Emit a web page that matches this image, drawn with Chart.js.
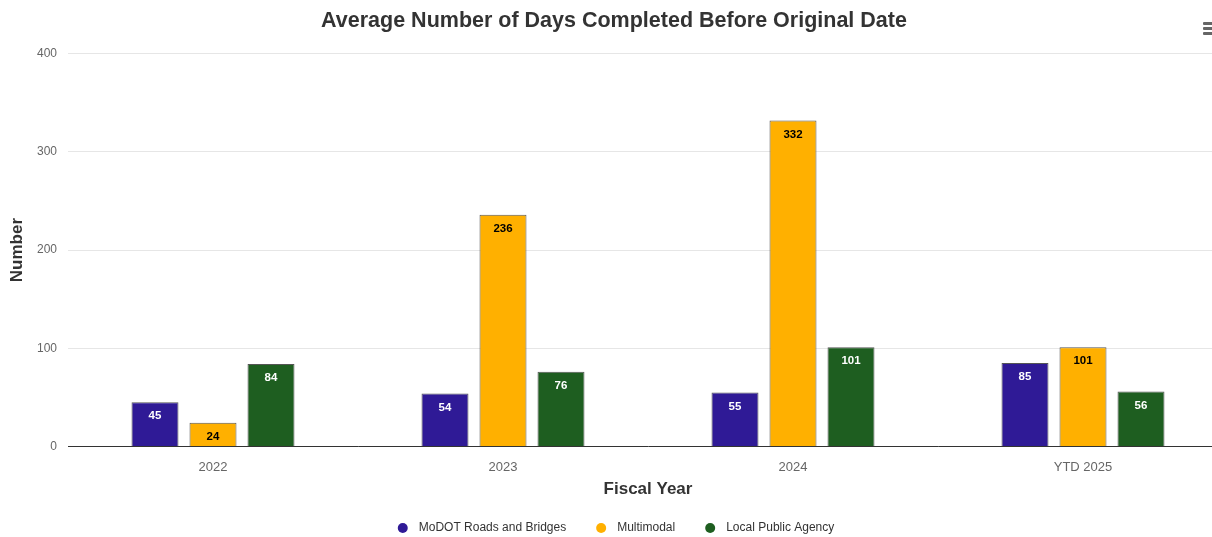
<!DOCTYPE html>
<html>
<head>
<meta charset="utf-8">
<script src="https://cdn.jsdelivr.net/npm/chart.js@4/dist/chart.umd.min.js"></script>
<style>
html,body{margin:0;padding:0;background:#fff;overflow:hidden;width:1212px;height:537px;}
#wrap{position:relative;width:1232px;height:537px;}
#menu{position:absolute;left:1203px;top:22px;width:10px;}
#menu div{height:3px;background:#666;margin-bottom:2px;border-radius:1px;}
</style>
</head>
<body>
<div id="wrap"><canvas id="c" width="1232" height="537"></canvas>
<div id="menu"><div></div><div></div><div></div></div></div>
<script>
const categories = ["2022", "2023", "2024", "YTD 2025"];
const modot = [45, 54, 55, 85];
const multimodal = [24, 236, 332, 101];
const lpa = [84, 76, 101, 56];
const seriesNames = ["MoDOT Roads and Bridges", "Multimodal", "Local Public Agency"];
const yTicks = [0, 100, 200, 300, 400];
const xTitle = "Fiscal Year";
const yTitle = "Number";

const colors = ["#2f1a96", "#ffb000", "#1e5e20"];
const labelColors = ["#ffffff", "#000000", "#ffffff"];
const FONT = "'Liberation Sans', Arial, sans-serif";

const extras = {
  id: 'extras',
  afterDatasetsDraw(chart) {
    const ctx = chart.ctx;
    const area = chart.chartArea;
    ctx.save();
    // value labels
    ctx.font = "bold 11.5px " + FONT;
    ctx.textAlign = 'center';
    ctx.textBaseline = 'middle';
    chart.data.datasets.forEach((ds, i) => {
      const meta = chart.getDatasetMeta(i);
      meta.data.forEach((bar, j) => {
        ctx.fillStyle = labelColors[i];
        ctx.fillText(String(ds.data[j]), bar.x, bar.y + 14);
      });
    });
    // axis titles
    ctx.fillStyle = "#333333";
    ctx.font = "bold 17px " + FONT;
    ctx.fillText(xTitle, (area.left + area.right) / 2, area.bottom + 43);
    ctx.save();
    ctx.translate(17, (area.top + area.bottom) / 2);
    ctx.rotate(-Math.PI / 2);
    ctx.fillText(yTitle, 0, 0);
    ctx.restore();
    // legend
    ctx.font = "12px " + FONT;
    const r = 5, textOff = 16, gap = 35;
    const tw = seriesNames.map(n => ctx.measureText(n).width);
    let total = r;
    tw.forEach((w, i) => { total += textOff + w + (i < tw.length - 1 ? gap : 0); });
    let cx = chart.width / 2 - total / 2 + r;
    const y = 528;
    ctx.textAlign = 'left';
    seriesNames.forEach((n, i) => {
      ctx.beginPath();
      ctx.arc(cx, y, r, 0, Math.PI * 2);
      ctx.fillStyle = colors[i];
      ctx.fill();
      ctx.fillStyle = "#333333";
      ctx.fillText(n, cx + textOff, y);
      cx += textOff + tw[i] + gap;
    });
    ctx.restore();
  }
};

const datasets = [modot, multimodal, lpa].map((d, i) => ({
  label: seriesNames[i],
  data: d,
  backgroundColor: colors[i],
  borderColor: "#555555",
  borderWidth: 1,
  categoryPercentage: 0.6,
  barPercentage: 0.81
}));

new Chart(document.getElementById('c'), {
  type: 'bar',
  data: { labels: categories, datasets },
  options: {
    responsive: false,
    animation: false,
    layout: { padding: { left: 0, right: 4, top: 4, bottom: 49 } },
    plugins: {
      title: {
        display: true,
        text: "Average Number of Days Completed Before Original Date",
        color: "#333333",
        font: { family: FONT, size: 21.5, weight: 'bold' },
        padding: { top: 4, bottom: 20 }
      },
      legend: { display: false },
      tooltip: { enabled: false }
    },
    scales: {
      x: {
        grid: { display: false, drawTicks: false },
        border: { color: "#333333", width: 1 },
        ticks: { color: "#666666", padding: 13, font: { family: FONT, size: 13 } }
      },
      y: {
        min: 0, max: 400,
        afterBuildTicks(axis) { axis.ticks = yTicks.map(v => ({ value: v })); },
        afterFit(axis) { axis.width = 68; },
        grid: { color: "#e6e6e6", drawTicks: false },
        border: { display: false },
        ticks: { color: "#666666", padding: 11, font: { family: FONT, size: 12 } }
      }
    }
  },
  plugins: [extras]
});
</script>
</body>
</html>
